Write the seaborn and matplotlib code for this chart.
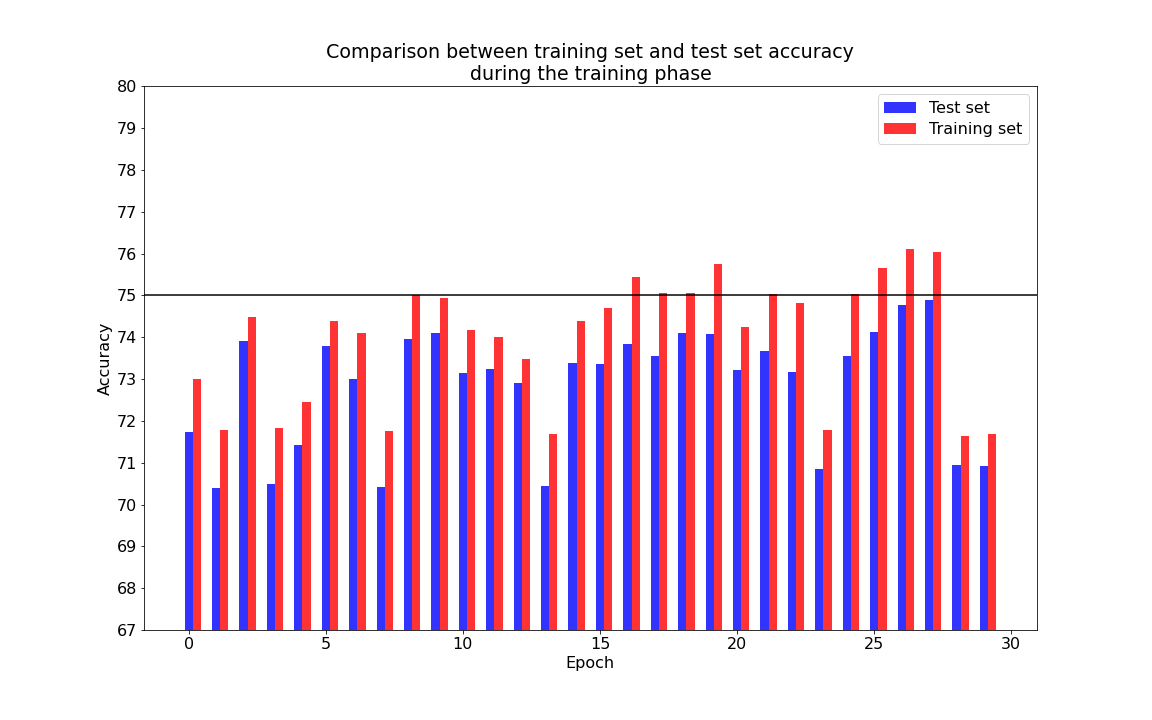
import matplotlib
matplotlib.use('Agg')
import matplotlib.pyplot as plt
import numpy as np
import pandas as pd
import seaborn as sns

epochs = list(range(30))
test_acc = [71.74, 70.40, 73.90, 70.50, 71.43, 73.79, 73.00, 70.43, 73.95, 74.10,
            73.14, 73.24, 72.90, 70.45, 73.38, 73.35, 73.85, 73.56, 74.11, 74.09,
            73.21, 73.68, 73.18, 70.85, 73.56, 74.13, 74.78, 74.90, 70.94, 70.92]
train_acc = [73.00, 71.79, 74.48, 71.83, 72.45, 74.38, 74.10, 71.76, 75.01, 74.93,
             74.17, 74.00, 73.48, 71.69, 74.38, 74.71, 75.44, 75.06, 75.06, 75.75,
             74.25, 75.04, 74.83, 71.78, 75.04, 75.66, 76.11, 76.04, 71.63, 71.68]
series_names = ['Test set', 'Training set']

# long form, shifted so the test bar sits on the epoch and the training bar right of it
df = pd.DataFrame({
    'epoch': np.array(epochs * 2, dtype=float) + 0.15,
    'accuracy': test_acc + train_acc,
    'set': [series_names[0]] * 30 + [series_names[1]] * 30,
})

fig, ax = plt.subplots(figsize=(16, 10), dpi=72)
fig.subplots_adjust(left=0.125, right=0.9, bottom=0.125, top=0.88)

sns.barplot(data=df, x='epoch', y='accuracy', hue='set', hue_order=series_names,
            palette=['b', 'r'], alpha=0.8, saturation=1, width=0.6,
            native_scale=True, errorbar=None, ax=ax)

ax.axhline(75, color='k', alpha=0.75, linewidth=2)
ax.set_ylim(67, 80)
ax.set_yticks(range(67, 81))
ax.set_xlim(-1.63, 30.93)
ax.set_xticks(range(0, 31, 5))
ax.tick_params(labelsize=16)
ax.set_xlabel('Epoch', fontsize=16)
ax.set_ylabel('Accuracy', fontsize=16)
ax.set_title('Comparison between training set and test set accuracy\nduring the training phase', fontsize=19)
ax.legend(loc='upper right', fontsize=16, labelspacing=0.4)

fig.savefig('out.png', dpi=72)
